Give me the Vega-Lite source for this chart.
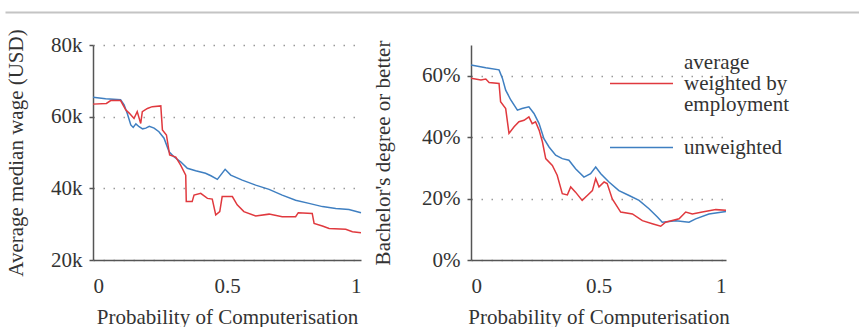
{
  "$schema": "https://vega.github.io/schema/vega-lite/v6.json",
  "padding": {"left": 5, "top": 12, "right": 0, "bottom": 0},
  "background": "white",
  "config": {
    "font": "Liberation Serif",
    "view": {"stroke": null},
    "axis": {
      "labelFont": "Liberation Serif",
      "titleFont": "Liberation Serif",
      "labelFontSize": 21,
      "titleFontSize": 21,
      "titleFontWeight": "normal",
      "labelColor": "#333",
      "titleColor": "#333",
      "domainColor": "#555",
      "domainWidth": 1.5,
      "tickColor": "#555",
      "tickSize": 4,
      "tickWidth": 1.5,
      "gridColor": "#999",
      "gridDash": [1.5, 8.5],
      "gridWidth": 1.5,
      "labelPadding": 7
    }
  },
  "datasets": {
    "wage": [
      {"p": 0, "v": 65400, "s": "unweighted"},
      {"p": 0.047, "v": 65000, "s": "unweighted"},
      {"p": 0.103, "v": 64700, "s": "unweighted"},
      {"p": 0.116, "v": 63300, "s": "unweighted"},
      {"p": 0.128, "v": 60900, "s": "unweighted"},
      {"p": 0.141, "v": 57700, "s": "unweighted"},
      {"p": 0.15, "v": 57000, "s": "unweighted"},
      {"p": 0.16, "v": 58000, "s": "unweighted"},
      {"p": 0.172, "v": 57200, "s": "unweighted"},
      {"p": 0.185, "v": 56600, "s": "unweighted"},
      {"p": 0.197, "v": 56800, "s": "unweighted"},
      {"p": 0.21, "v": 57300, "s": "unweighted"},
      {"p": 0.228, "v": 56800, "s": "unweighted"},
      {"p": 0.246, "v": 55800, "s": "unweighted"},
      {"p": 0.265, "v": 54000, "s": "unweighted"},
      {"p": 0.284, "v": 50200, "s": "unweighted"},
      {"p": 0.302, "v": 48800, "s": "unweighted"},
      {"p": 0.327, "v": 47400, "s": "unweighted"},
      {"p": 0.352, "v": 45600, "s": "unweighted"},
      {"p": 0.383, "v": 44900, "s": "unweighted"},
      {"p": 0.42, "v": 44200, "s": "unweighted"},
      {"p": 0.44, "v": 43500, "s": "unweighted"},
      {"p": 0.464, "v": 42500, "s": "unweighted"},
      {"p": 0.493, "v": 45300, "s": "unweighted"},
      {"p": 0.514, "v": 43700, "s": "unweighted"},
      {"p": 0.557, "v": 42300, "s": "unweighted"},
      {"p": 0.607, "v": 40900, "s": "unweighted"},
      {"p": 0.657, "v": 39700, "s": "unweighted"},
      {"p": 0.706, "v": 38100, "s": "unweighted"},
      {"p": 0.756, "v": 36700, "s": "unweighted"},
      {"p": 0.806, "v": 35800, "s": "unweighted"},
      {"p": 0.856, "v": 34900, "s": "unweighted"},
      {"p": 0.906, "v": 34400, "s": "unweighted"},
      {"p": 0.955, "v": 34100, "s": "unweighted"},
      {"p": 1.0, "v": 33200, "s": "unweighted"},
      {"p": 0, "v": 63500, "s": "weighted"},
      {"p": 0.05, "v": 63700, "s": "weighted"},
      {"p": 0.066, "v": 64500, "s": "weighted"},
      {"p": 0.103, "v": 64500, "s": "weighted"},
      {"p": 0.122, "v": 61900, "s": "weighted"},
      {"p": 0.135, "v": 61000, "s": "weighted"},
      {"p": 0.153, "v": 59500, "s": "weighted"},
      {"p": 0.165, "v": 61400, "s": "weighted"},
      {"p": 0.178, "v": 58100, "s": "weighted"},
      {"p": 0.184, "v": 61400, "s": "weighted"},
      {"p": 0.203, "v": 62300, "s": "weighted"},
      {"p": 0.221, "v": 62800, "s": "weighted"},
      {"p": 0.253, "v": 63000, "s": "weighted"},
      {"p": 0.259, "v": 56300, "s": "weighted"},
      {"p": 0.274, "v": 54900, "s": "weighted"},
      {"p": 0.286, "v": 49300, "s": "weighted"},
      {"p": 0.309, "v": 48700, "s": "weighted"},
      {"p": 0.327, "v": 46500, "s": "weighted"},
      {"p": 0.346, "v": 43700, "s": "weighted"},
      {"p": 0.348, "v": 36300, "s": "weighted"},
      {"p": 0.37, "v": 36300, "s": "weighted"},
      {"p": 0.377, "v": 38100, "s": "weighted"},
      {"p": 0.402, "v": 38600, "s": "weighted"},
      {"p": 0.427, "v": 37200, "s": "weighted"},
      {"p": 0.445, "v": 37000, "s": "weighted"},
      {"p": 0.458, "v": 32600, "s": "weighted"},
      {"p": 0.473, "v": 33500, "s": "weighted"},
      {"p": 0.482, "v": 37700, "s": "weighted"},
      {"p": 0.52, "v": 37700, "s": "weighted"},
      {"p": 0.538, "v": 35400, "s": "weighted"},
      {"p": 0.563, "v": 33500, "s": "weighted"},
      {"p": 0.607, "v": 32300, "s": "weighted"},
      {"p": 0.657, "v": 32800, "s": "weighted"},
      {"p": 0.706, "v": 32100, "s": "weighted"},
      {"p": 0.756, "v": 32100, "s": "weighted"},
      {"p": 0.766, "v": 33200, "s": "weighted"},
      {"p": 0.818, "v": 33000, "s": "weighted"},
      {"p": 0.825, "v": 30200, "s": "weighted"},
      {"p": 0.856, "v": 29500, "s": "weighted"},
      {"p": 0.881, "v": 28800, "s": "weighted"},
      {"p": 0.943, "v": 28600, "s": "weighted"},
      {"p": 0.968, "v": 27900, "s": "weighted"},
      {"p": 1.0, "v": 27600, "s": "weighted"}
    ],
    "edu": [
      {"p": 0, "v": 0.635, "s": "unweighted"},
      {"p": 0.058, "v": 0.626, "s": "unweighted"},
      {"p": 0.11, "v": 0.619, "s": "unweighted"},
      {"p": 0.123, "v": 0.592, "s": "unweighted"},
      {"p": 0.136, "v": 0.553, "s": "unweighted"},
      {"p": 0.156, "v": 0.521, "s": "unweighted"},
      {"p": 0.182, "v": 0.488, "s": "unweighted"},
      {"p": 0.2, "v": 0.493, "s": "unweighted"},
      {"p": 0.227, "v": 0.499, "s": "unweighted"},
      {"p": 0.247, "v": 0.477, "s": "unweighted"},
      {"p": 0.267, "v": 0.444, "s": "unweighted"},
      {"p": 0.286, "v": 0.395, "s": "unweighted"},
      {"p": 0.306, "v": 0.368, "s": "unweighted"},
      {"p": 0.332, "v": 0.341, "s": "unweighted"},
      {"p": 0.358, "v": 0.33, "s": "unweighted"},
      {"p": 0.384, "v": 0.325, "s": "unweighted"},
      {"p": 0.41, "v": 0.297, "s": "unweighted"},
      {"p": 0.443, "v": 0.27, "s": "unweighted"},
      {"p": 0.469, "v": 0.281, "s": "unweighted"},
      {"p": 0.489, "v": 0.303, "s": "unweighted"},
      {"p": 0.509, "v": 0.281, "s": "unweighted"},
      {"p": 0.541, "v": 0.254, "s": "unweighted"},
      {"p": 0.58, "v": 0.226, "s": "unweighted"},
      {"p": 0.62, "v": 0.21, "s": "unweighted"},
      {"p": 0.659, "v": 0.194, "s": "unweighted"},
      {"p": 0.698, "v": 0.167, "s": "unweighted"},
      {"p": 0.731, "v": 0.14, "s": "unweighted"},
      {"p": 0.75, "v": 0.123, "s": "unweighted"},
      {"p": 0.803, "v": 0.128, "s": "unweighted"},
      {"p": 0.855, "v": 0.123, "s": "unweighted"},
      {"p": 0.881, "v": 0.134, "s": "unweighted"},
      {"p": 0.933, "v": 0.15, "s": "unweighted"},
      {"p": 1.0, "v": 0.158, "s": "unweighted"},
      {"p": 0, "v": 0.592, "s": "weighted"},
      {"p": 0.039, "v": 0.586, "s": "weighted"},
      {"p": 0.058, "v": 0.589, "s": "weighted"},
      {"p": 0.071, "v": 0.578, "s": "weighted"},
      {"p": 0.11, "v": 0.575, "s": "weighted"},
      {"p": 0.116, "v": 0.515, "s": "weighted"},
      {"p": 0.136, "v": 0.493, "s": "weighted"},
      {"p": 0.149, "v": 0.412, "s": "weighted"},
      {"p": 0.169, "v": 0.434, "s": "weighted"},
      {"p": 0.188, "v": 0.45, "s": "weighted"},
      {"p": 0.208, "v": 0.455, "s": "weighted"},
      {"p": 0.227, "v": 0.466, "s": "weighted"},
      {"p": 0.24, "v": 0.444, "s": "weighted"},
      {"p": 0.253, "v": 0.45, "s": "weighted"},
      {"p": 0.267, "v": 0.423, "s": "weighted"},
      {"p": 0.28, "v": 0.385, "s": "weighted"},
      {"p": 0.293, "v": 0.33, "s": "weighted"},
      {"p": 0.319, "v": 0.308, "s": "weighted"},
      {"p": 0.338, "v": 0.276, "s": "weighted"},
      {"p": 0.358, "v": 0.216, "s": "weighted"},
      {"p": 0.378, "v": 0.212, "s": "weighted"},
      {"p": 0.391, "v": 0.238, "s": "weighted"},
      {"p": 0.41, "v": 0.221, "s": "weighted"},
      {"p": 0.436, "v": 0.194, "s": "weighted"},
      {"p": 0.456, "v": 0.21, "s": "weighted"},
      {"p": 0.476, "v": 0.226, "s": "weighted"},
      {"p": 0.489, "v": 0.265, "s": "weighted"},
      {"p": 0.502, "v": 0.238, "s": "weighted"},
      {"p": 0.522, "v": 0.254, "s": "weighted"},
      {"p": 0.534, "v": 0.249, "s": "weighted"},
      {"p": 0.554, "v": 0.199, "s": "weighted"},
      {"p": 0.587, "v": 0.156, "s": "weighted"},
      {"p": 0.633, "v": 0.15, "s": "weighted"},
      {"p": 0.672, "v": 0.128, "s": "weighted"},
      {"p": 0.711, "v": 0.118, "s": "weighted"},
      {"p": 0.744, "v": 0.11, "s": "weighted"},
      {"p": 0.763, "v": 0.123, "s": "weighted"},
      {"p": 0.816, "v": 0.134, "s": "weighted"},
      {"p": 0.842, "v": 0.156, "s": "weighted"},
      {"p": 0.868, "v": 0.15, "s": "weighted"},
      {"p": 0.907, "v": 0.156, "s": "weighted"},
      {"p": 0.96, "v": 0.164, "s": "weighted"},
      {"p": 1.0, "v": 0.162, "s": "weighted"}
    ]
  },
  "spacing": 15,
  "vconcat": [
    {
      "width": 767,
      "height": 1,
      "data": {"values": []},
      "mark": {"type": "point", "opacity": 0},
      "encoding": {
        "x": {"field": "p", "type": "quantitative",
          "scale": {"domain": [0, 1], "range": [-88, 767], "nice": false, "zero": false},
          "axis": {"orient": "top", "title": null, "labels": false, "ticks": false, "grid": false, "domain": true, "domainColor": "#c4c4c4", "domainWidth": 2}}
      }
    },
    {
      "spacing": 8,
      "resolve": {"scale": {"color": "independent"}, "legend": {"color": "independent"}},
      "hconcat": [
        {
          "width": 268,
          "height": 215,
          "data": {"name": "wage"},
          "mark": {"type": "line", "strokeWidth": 1.5},
          "encoding": {
            "x": {"field": "p", "type": "quantitative", "scale": {"domain": [0, 1], "nice": false},
              "axis": {"values": [0, 0.5, 1], "format": "~g", "title": "Probability of Computerisation", "grid": false, "ticks": false, "labelPadding": 15, "titlePadding": 10}},
            "y": {"field": "v", "type": "quantitative", "scale": {"domain": [20000, 80000], "nice": false},
              "axis": {"values": [20000, 40000, 60000, 80000], "labelExpr": "datum.value / 1000 + 'k'", "title": "Average median wage (USD)", "titlePadding": 24}},
            "color": {"field": "s", "type": "nominal", "scale": {"domain": ["weighted", "unweighted"], "range": ["#e0393e", "#3f7fc1"]}, "legend": null}
          }
        },
        {
          "width": 255,
          "height": 215,
          "data": {"name": "edu"},
          "mark": {"type": "line", "strokeWidth": 1.5},
          "encoding": {
            "x": {"field": "p", "type": "quantitative", "scale": {"domain": [0, 1], "nice": false},
              "axis": {"values": [0, 0.5, 1], "format": "~g", "title": "Probability of Computerisation", "grid": false, "ticks": false, "labelPadding": 15, "titlePadding": 10}},
            "y": {"field": "v", "type": "quantitative", "scale": {"domain": [0, 0.7], "nice": false},
              "axis": {"values": [0, 0.2, 0.4, 0.6], "format": ".0%", "title": "Bachelor's degree or better", "titlePadding": 28}},
            "color": {"field": "s", "type": "nominal", "scale": {"domain": ["weighted", "unweighted"], "range": ["#e0393e", "#3f7fc1"]},
              "legend": {"orient": "none", "legendX": 138, "legendY": 6, "title": null, "padding": 0, "symbolType": "stroke", "symbolSize": 3969, "symbolStrokeWidth": 1.5, "labelFont": "Liberation Serif", "labelFontSize": 21, "labelColor": "#333", "labelOffset": 10, "rowPadding": -17, "labelLimit": 300,
                "labelExpr": "datum.label == 'weighted' ? ['average', 'weighted by', 'employment'] : datum.label",
                "encode": {"labels": {"update": {"lineHeight": {"value": 21}, "dy": {"signal": "datum.value == 'weighted' ? -21 : 0"}}}}}}
          }
        }
      ]
    }
  ]
}
